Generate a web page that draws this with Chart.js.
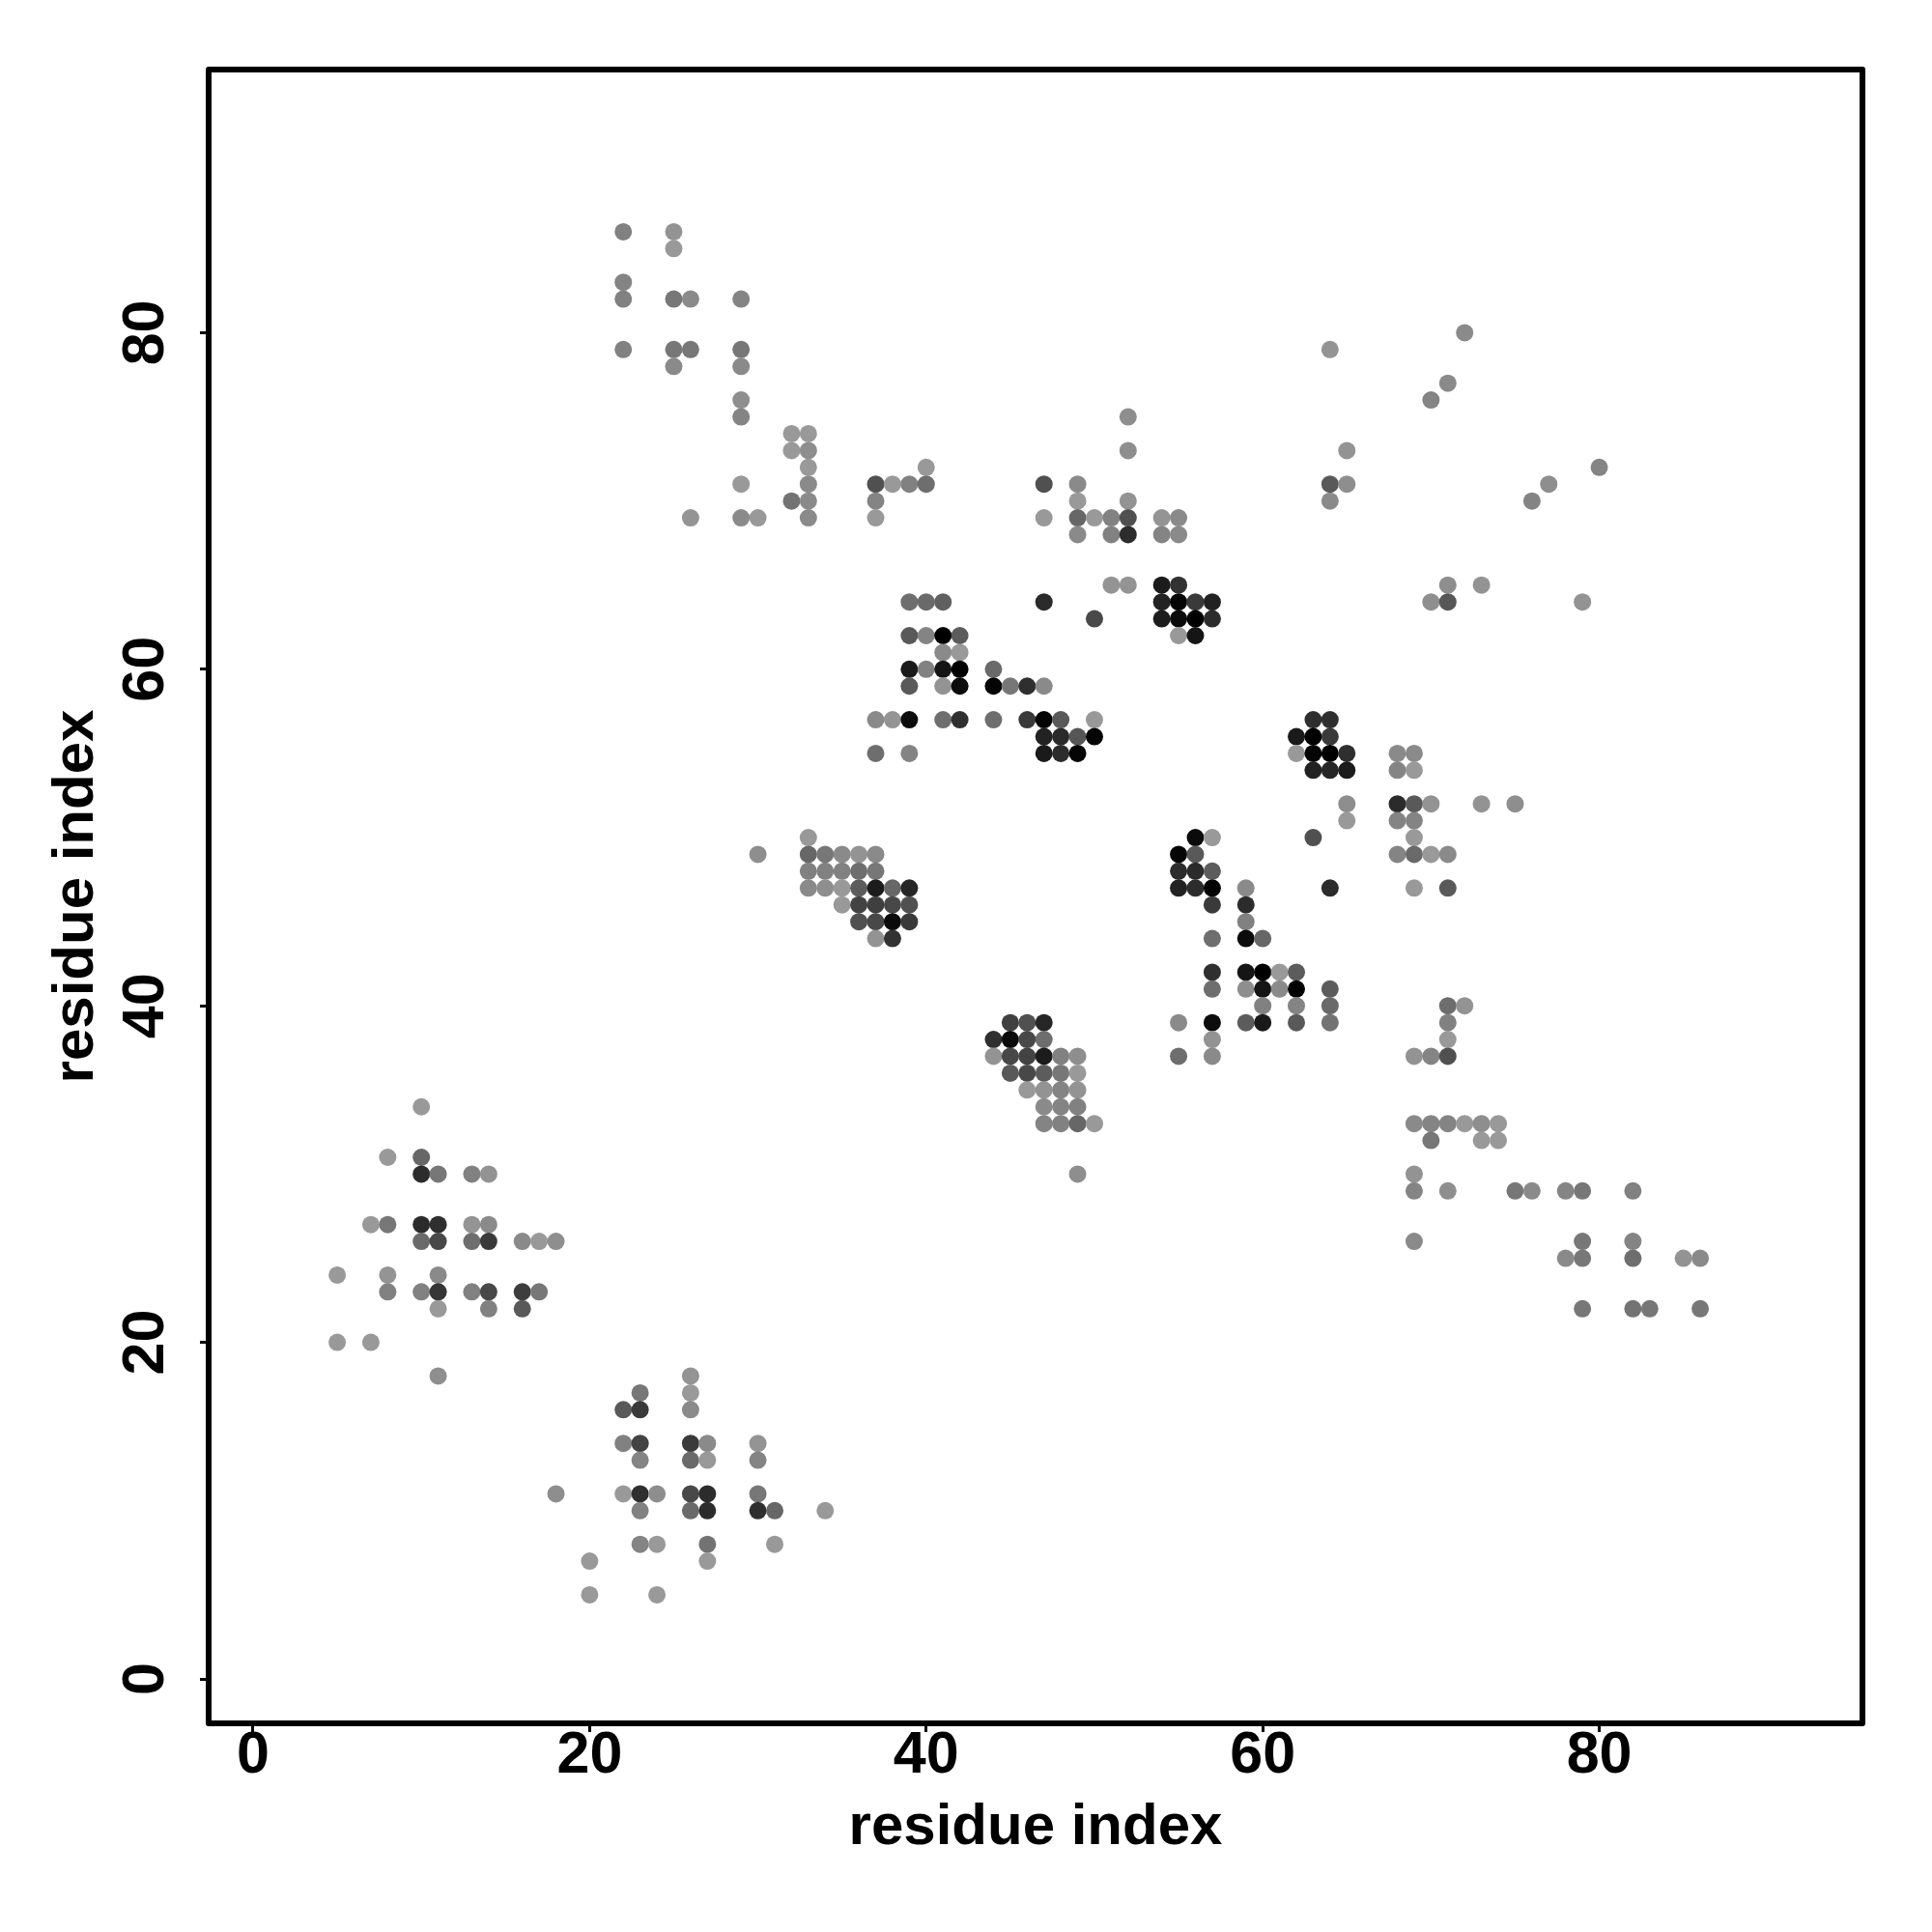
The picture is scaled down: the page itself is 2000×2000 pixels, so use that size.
<!DOCTYPE html>
<html>
<head>
<meta charset="utf-8">
<title>residue contacts</title>
<script src="https://cdn.jsdelivr.net/npm/chart.js@4"></script>
<style>
	body { margin: 0; background: #ffffff; }
	canvas { display: block; }
</style>
</head>
<body>
<canvas id="contactMap" width="2000" height="2000"></canvas>
<script>
// Values, one source line per row of dots
const contactX = [
	22, 25,
	25,
	22,
	22, 25, 26, 29,
	72,
	22, 25, 26, 29, 64,
	25, 29,
	71,
	29, 70,
	29, 52,
	32, 33,
	32, 33, 52, 65,
	33, 40, 80,
	29, 33, 37, 38, 39, 40, 47, 49, 64, 65, 77,
	32, 33, 37, 49, 52, 64, 76,
	26, 29, 30, 33, 37, 47, 49, 50, 51, 52, 54, 55,
	49, 51, 52, 54, 55,
	51, 52, 54, 55, 71, 73,
	39, 40, 41, 47, 54, 55, 56, 57, 70, 71, 79,
	50, 54, 55, 56, 57,
	39, 40, 41, 42, 55, 56,
	41, 42,
	39, 40, 41, 42, 44,
	39, 41, 42, 44, 45, 46, 47,
	37, 38, 39, 41, 42, 44, 46, 47, 48, 50, 63, 64,
	47, 48, 49, 50, 62, 63, 64,
	37, 39, 47, 48, 49, 62, 63, 64, 65, 68, 69,
	63, 64, 65, 68, 69,
	65, 68, 69, 70, 73, 75,
	65, 68, 69,
	33, 56, 57, 63, 69,
	30, 33, 34, 35, 36, 37, 55, 56, 68, 69, 70, 71,
	33, 34, 35, 36, 37, 55, 56, 57,
	33, 34, 35, 36, 37, 38, 39, 55, 56, 57, 59, 64, 69, 71,
	35, 36, 37, 38, 39, 57, 59,
	36, 37, 38, 39, 59,
	37, 38, 57, 59, 60,
	57, 59, 60, 61, 62,
	57, 59, 60, 61, 62, 64,
	60, 62, 64, 71, 72,
	45, 46, 47, 55, 57, 59, 60, 62, 64, 71,
	44, 45, 46, 47, 57, 71,
	44, 45, 46, 47, 48, 49, 55, 57, 69, 70, 71,
	45, 46, 47, 48, 49,
	46, 47, 48, 49,
	10, 47, 48, 49,
	47, 48, 49, 50, 69, 70, 71, 72, 73, 74,
	70, 73, 74,
	8, 10,
	10, 11, 13, 14, 49, 69,
	69, 71, 75, 76, 78, 79, 82,
	7, 8, 10, 11, 13, 14,
	10, 11, 13, 14, 16, 17, 18, 69, 79, 82,
	78, 79, 82, 85, 86,
	5, 8, 11,
	8, 10, 11, 13, 14, 16, 17,
	11, 14, 16, 79, 82, 83, 86,
	5, 7,
	11, 26,
	23, 26,
	22, 23, 26,
	22, 23, 26, 27, 30,
	23, 26, 27, 30,
	18, 22, 23, 24, 26, 27, 30,
	23, 26, 27, 30, 31, 34,
	23, 24, 27, 31,
	20, 27,
	20, 24,
];

const contactY = [
	86, 86,
	85,
	83,
	82, 82, 82, 82,
	80,
	79, 79, 79, 79, 79,
	78, 78,
	77,
	76, 76,
	75, 75,
	74, 74,
	73, 73, 73, 73,
	72, 72, 72,
	71, 71, 71, 71, 71, 71, 71, 71, 71, 71, 71,
	70, 70, 70, 70, 70, 70, 70,
	69, 69, 69, 69, 69, 69, 69, 69, 69, 69, 69, 69,
	68, 68, 68, 68, 68,
	65, 65, 65, 65, 65, 65,
	64, 64, 64, 64, 64, 64, 64, 64, 64, 64, 64,
	63, 63, 63, 63, 63,
	62, 62, 62, 62, 62, 62,
	61, 61,
	60, 60, 60, 60, 60,
	59, 59, 59, 59, 59, 59, 59,
	57, 57, 57, 57, 57, 57, 57, 57, 57, 57, 57, 57,
	56, 56, 56, 56, 56, 56, 56,
	55, 55, 55, 55, 55, 55, 55, 55, 55, 55, 55,
	54, 54, 54, 54, 54,
	52, 52, 52, 52, 52, 52,
	51, 51, 51,
	50, 50, 50, 50, 50,
	49, 49, 49, 49, 49, 49, 49, 49, 49, 49, 49, 49,
	48, 48, 48, 48, 48, 48, 48, 48,
	47, 47, 47, 47, 47, 47, 47, 47, 47, 47, 47, 47, 47, 47,
	46, 46, 46, 46, 46, 46, 46,
	45, 45, 45, 45, 45,
	44, 44, 44, 44, 44,
	42, 42, 42, 42, 42,
	41, 41, 41, 41, 41, 41,
	40, 40, 40, 40, 40,
	39, 39, 39, 39, 39, 39, 39, 39, 39, 39,
	38, 38, 38, 38, 38, 38,
	37, 37, 37, 37, 37, 37, 37, 37, 37, 37, 37,
	36, 36, 36, 36, 36,
	35, 35, 35, 35,
	34, 34, 34, 34,
	33, 33, 33, 33, 33, 33, 33, 33, 33, 33,
	32, 32, 32,
	31, 31,
	30, 30, 30, 30, 30, 30,
	29, 29, 29, 29, 29, 29, 29,
	27, 27, 27, 27, 27, 27,
	26, 26, 26, 26, 26, 26, 26, 26, 26, 26,
	25, 25, 25, 25, 25,
	24, 24, 24,
	23, 23, 23, 23, 23, 23, 23,
	22, 22, 22, 22, 22, 22, 22,
	20, 20,
	18, 18,
	17, 17,
	16, 16, 16,
	14, 14, 14, 14, 14,
	13, 13, 13, 13,
	11, 11, 11, 11, 11, 11, 11,
	10, 10, 10, 10, 10, 10,
	8, 8, 8, 8,
	7, 7,
	5, 5,
];

// Contact strength 0-100, 0 is the lightest gray and 100 is black
const contactScore = [
	16, 4,
	0,
	14,
	16, 22, 10, 14,
	10,
	16, 22, 22, 22, 4,
	10, 10,
	10,
	7, 14,
	14, 7,
	0, 0,
	0, 7, 7, 4,
	0, 0, 14,
	0, 10, 48, 0, 16, 28, 48, 10, 42, 7, 7,
	25, 10, 14, 0, 4, 10, 14,
	3, 10, 0, 10, 0, 0, 33, 0, 16, 48, 3, 10,
	10, 16, 71, 14, 10,
	3, 3, 82, 67, 7, 4,
	28, 31, 37, 72, 78, 97, 62, 78, 7, 43, 4,
	52, 82, 93, 100, 72,
	42, 14, 100, 40, 0, 86,
	10, 0,
	83, 16, 86, 100, 31,
	42, 4, 92, 97, 22, 69, 10,
	10, 3, 92, 28, 69, 28, 62, 97, 42, 0, 69, 69,
	78, 72, 44, 97, 83, 100, 62,
	28, 14, 83, 71, 97, 0, 97, 100, 69, 10, 10,
	78, 75, 82, 14, 0,
	7, 72, 42, 4, 4, 7,
	0, 14, 14,
	0, 93, 0, 48, 0,
	7, 33, 22, 10, 4, 10, 97, 42, 14, 31, 0, 10,
	16, 16, 16, 28, 22, 71, 72, 40,
	10, 7, 0, 40, 82, 33, 75, 78, 71, 97, 10, 72, 0, 42,
	0, 56, 59, 53, 48, 62, 71,
	48, 53, 93, 62, 16,
	4, 67, 28, 93, 33,
	69, 86, 100, 0, 40,
	28, 7, 86, 10, 100, 40,
	16, 14, 31, 28, 4,
	58, 48, 75, 10, 92, 40, 83, 42, 25, 16,
	69, 93, 52, 28, 4, 0,
	4, 53, 56, 82, 16, 7, 28, 10, 4, 14, 48,
	42, 53, 40, 22, 0,
	0, 4, 14, 4,
	0, 10, 14, 16,
	14, 16, 33, 0, 10, 14, 14, 0, 7, 0,
	22, 0, 0,
	0, 33,
	71, 22, 16, 4, 7, 4,
	14, 7, 22, 10, 14, 22, 16,
	0, 22, 72, 69, 3, 10,
	31, 53, 28, 62, 10, 0, 7, 10, 22, 14,
	10, 22, 28, 4, 10,
	0, 3, 10,
	16, 16, 65, 16, 53, 60, 22,
	0, 16, 42, 22, 25, 22, 22,
	0, 0,
	7, 3,
	22, 0,
	42, 62, 10,
	16, 56, 62, 10, 3,
	14, 31, 0, 14,
	7, 0, 69, 7, 53, 71, 22,
	16, 31, 71, 69, 33, 0,
	14, 0, 25, 0,
	0, 0,
	0, 0,
];

const tickValues = [0, 20, 40, 60, 80];
const axisLabel = "residue index";

function scoreColor(score) {
	const g = Math.round(153 * (1 - score / 100));
	return "rgb(" + g + "," + g + "," + g + ")";
}

const tickFont = { family: "'Liberation Sans'", weight: "bold", size: 61, lineHeight: 1 };
const titleFont = { family: "'Liberation Sans'", weight: "bold", size: 60, lineHeight: 1.2 };

// Box around the plot, R style
const plotBox = {
	id: "plotBox",
	afterDraw(chart) {
		const a = chart.chartArea;
		const ctx = chart.ctx;
		ctx.save();
		ctx.strokeStyle = "#000000";
		ctx.lineWidth = 6;
		ctx.lineJoin = "round";
		ctx.strokeRect(a.left, a.top, a.right - a.left, a.bottom - a.top);
		ctx.restore();
	},
};

new Chart(document.getElementById("contactMap"), {
	type: "scatter",
	data: {
		datasets: [
			{
				data: contactX.map((x, i) => ({ x: x, y: contactY[i] })),
				pointRadius: 9,
				pointBorderWidth: 0,
				pointBackgroundColor: contactScore.map(scoreColor),
			},
		],
	},
	options: {
		responsive: false,
		animation: false,
		layout: { padding: { top: 72, right: 72, left: 0, bottom: 0 } },
		plugins: {
			legend: { display: false },
			tooltip: { enabled: false },
		},
		scales: {
			x: {
				type: "linear",
				min: -2.64,
				max: 95.64,
				afterBuildTicks: (axis) => {
					axis.ticks = tickValues.map((v) => ({ value: v }));
				},
				afterFit: (axis) => {
					axis.height = 216;
				},
				border: { display: false },
				grid: { drawOnChartArea: false, drawTicks: true, tickLength: 9, tickWidth: 3, tickColor: "#000000" },
				ticks: { color: "#000000", font: tickFont, padding: -5.5, maxRotation: 0, autoSkip: false },
				title: { display: true, text: axisLabel, color: "#000000", font: titleFont, padding: { top: 0, bottom: 71.5 } },
			},
			y: {
				type: "linear",
				min: -2.64,
				max: 95.64,
				afterBuildTicks: (axis) => {
					axis.ticks = tickValues.map((v) => ({ value: v }));
				},
				afterFit: (axis) => {
					axis.width = 216;
				},
				border: { display: false },
				grid: { drawOnChartArea: false, drawTicks: true, tickLength: 9, tickWidth: 3, tickColor: "#000000" },
				ticks: { color: "#000000", font: tickFont, padding: 20.5, minRotation: 90, maxRotation: 90, crossAlign: "center", autoSkip: false },
				title: { display: true, text: axisLabel, color: "#000000", font: titleFont, padding: { top: 43.5, bottom: 0 } },
			},
		},
	},
	plugins: [plotBox],
});
</script>
</body>
</html>
